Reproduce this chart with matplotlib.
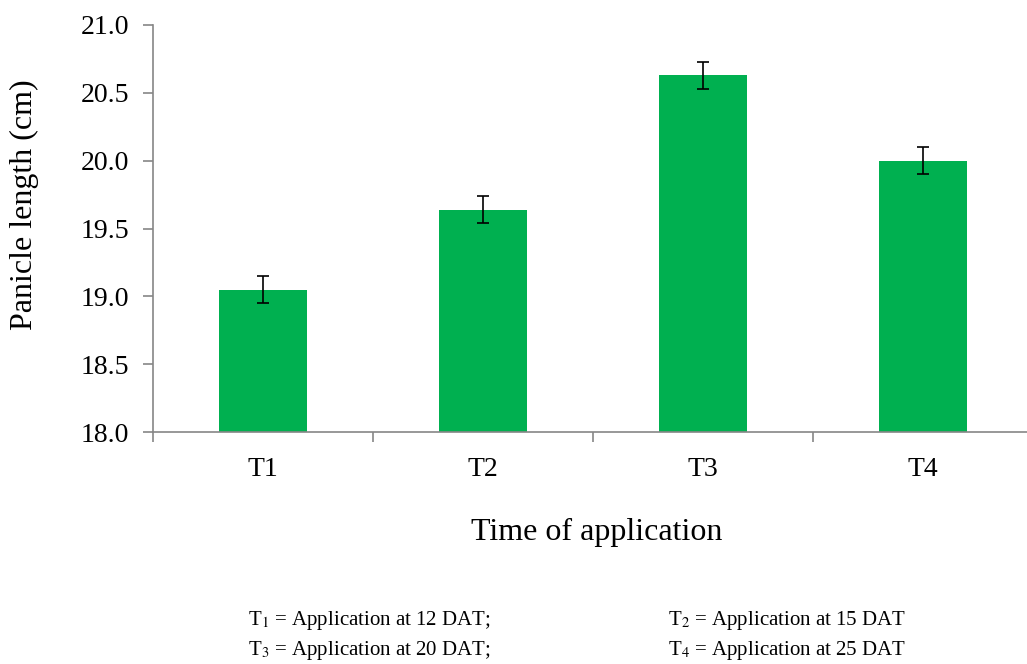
import matplotlib
matplotlib.use("Agg")
import matplotlib.pyplot as plt
import numpy as np

categories = ["T1", "T2", "T3", "T4"]
panicle_length = [19.05, 19.64, 20.63, 20.00]
std_error = [0.10, 0.10, 0.10, 0.10]
y_ticks = [18.0, 18.5, 19.0, 19.5, 20.0, 20.5, 21.0]

plt.rcParams["font.family"] = ["Liberation Serif", "DejaVu Serif"]
plt.rcParams["mathtext.fontset"] = "stix"

fig = plt.figure(figsize=(10.27, 6.64), dpi=100)
ax = fig.add_axes([153 / 1027, 1 - 432 / 664, (1033 - 153) / 1027, (432 - 25) / 664])

x = np.arange(len(categories))
ax.bar(x, panicle_length, width=0.4, color="#00B050", zorder=2)
ax.errorbar(x, panicle_length, yerr=std_error, fmt="none", ecolor="black",
            elinewidth=1.2, capsize=4.5, capthick=1.2, zorder=3)

ax.set_xlim(-0.5, len(categories) - 0.5)
ax.set_ylim(18.0, 21.0)
ax.set_yticks(y_ticks)
ax.set_yticklabels([f"{v:.1f}" for v in y_ticks], fontsize=20)

# category boundaries carry the tick marks, labels sit at the centres
ax.set_xticks(np.arange(-0.5, len(categories), 1.0))
ax.set_xticklabels([])
ax.set_xticks(x, minor=True)
ax.set_xticklabels(categories, minor=True, fontsize=20)
ax.tick_params(axis="x", which="minor", length=0, pad=18)
ax.tick_params(axis="x", which="major", length=7, width=1.2, color="#868686", direction="out")
ax.tick_params(axis="y", length=7, width=1.2, color="#868686", direction="out", pad=10)

for side in ["top", "right"]:
    ax.spines[side].set_visible(False)
for side in ["left", "bottom"]:
    ax.spines[side].set_color("#868686")
    ax.spines[side].set_linewidth(1.2)

fig.text(10 / 1027, 1 - 205 / 664, "Panicle length (cm)", rotation=90,
         fontsize=23, ha="left", va="center")
fig.text(597 / 1027, 1 - 532 / 664, "Time of application", fontsize=23,
         ha="center", va="center")

notes = [
    (248, 620, r"T$_1$ = Application at 12 DAT;"),
    (668, 620, r"T$_2$ = Application at 15 DAT"),
    (248, 651, r"T$_3$ = Application at 20 DAT;"),
    (668, 651, r"T$_4$ = Application at 25 DAT"),
]
for px, py, s in notes:
    fig.text(px / 1027, 1 - py / 664, s, fontsize=15, ha="left", va="center")

fig.savefig("out.png", dpi=100, facecolor="white")
